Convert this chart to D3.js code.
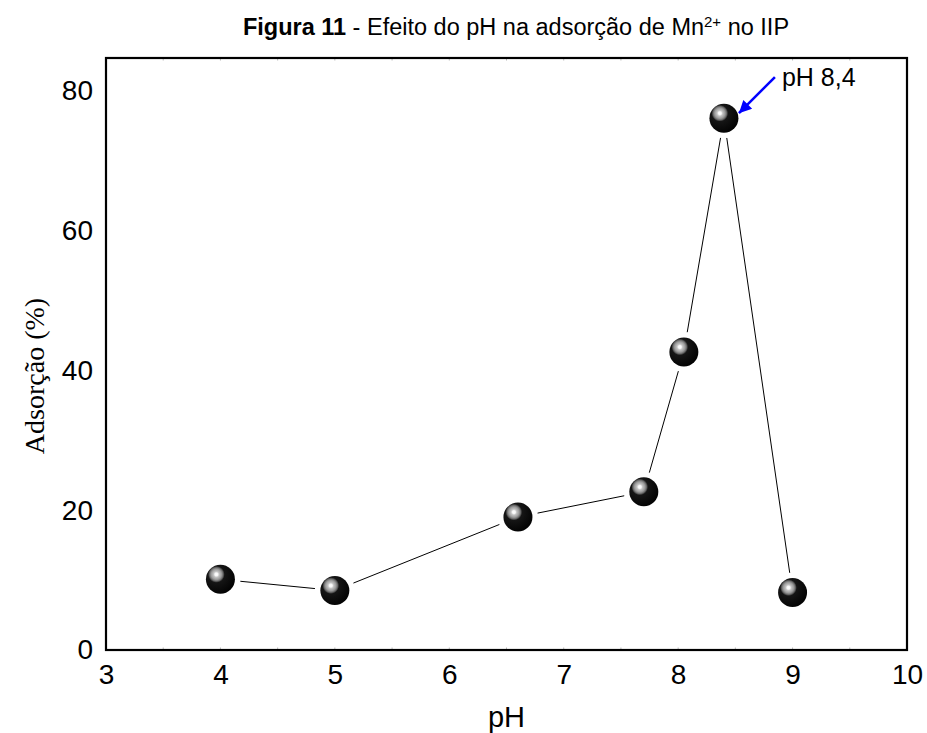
<!DOCTYPE html>
<html>
<head>
<meta charset="utf-8">
<script src="https://cdn.jsdelivr.net/npm/d3@7"></script>
<style>
  body { margin: 0; background: #fff; }
  svg { display: block; }
</style>
</head>
<body>
<svg id="chart"></svg>
<script>
// dados
const phValues = [4, 5, 6.6, 7.7, 8.05, 8.4, 9];
const adsorcao = [10.1, 8.5, 19.0, 22.6, 42.6, 76.0, 8.2];
const xTicks = [3, 4, 5, 6, 7, 8, 9, 10];
const yTicks = [0, 20, 40, 60, 80];
const destaque = { ph: 8.4, label: "pH 8,4" };

const width = 927;
const height = 733;
const margin = { top: 58, right: 20, bottom: 83, left: 106 };

const svg = d3.select("#chart")
    .attr("width", width)
    .attr("height", height);

const x = d3.scaleLinear().domain([3, 10]).range([margin.left, width - margin.right]);
const y = d3.scaleLinear().domain([0, 84.6]).range([height - margin.bottom, margin.top]);

// gradiente das esferas
const defs = svg.append("defs");
const grad = defs.append("radialGradient")
    .attr("id", "esfera")
    .attr("cx", 0.36).attr("cy", 0.33).attr("r", 0.75)
    .attr("fx", 0.36).attr("fy", 0.33);
[[0, "#ffffff"], [0.07, "#f6f6f6"], [0.13, "#c4c4c4"], [0.24, "#9a9a9a"], [0.31, "#6a6a6a"], [0.38, "#151515"], [1, "#000000"]]
    .forEach(s => grad.append("stop").attr("offset", s[0]).attr("stop-color", s[1]));

defs.append("marker")
    .attr("id", "seta")
    .attr("viewBox", "0 0 10 10")
    .attr("refX", 10).attr("refY", 5)
    .attr("markerWidth", 6).attr("markerHeight", 5)
    .attr("markerUnits", "strokeWidth")
    .attr("orient", "auto")
    .append("path")
    .attr("d", "M0,0 L10,5 L0,10 Z")
    .attr("fill", "#0000ff");

// título
const title = svg.append("text")
    .attr("x", 516)
    .attr("y", 35)
    .attr("text-anchor", "middle")
    .style("font-family", "Arial, 'Liberation Sans', sans-serif")
    .style("font-size", "23.5px")
    .attr("fill", "#000");
title.append("tspan").attr("font-weight", "bold").text("Figura 11");
title.append("tspan").text(" - Efeito do pH na adsorção de Mn");
title.append("tspan").attr("dy", -8).style("font-size", "15px").text("2+");
title.append("tspan").attr("dy", 8).text(" no IIP");

// eixos
const font = "Arial, 'Liberation Sans', sans-serif";

const xAxis = svg.append("g")
    .attr("transform", `translate(0,${y(0)})`)
    .call(d3.axisBottom(x).tickValues(xTicks).tickSize(0).tickPadding(14).tickFormat(d3.format("d")));
xAxis.select(".domain").remove();
xAxis.selectAll("text").style("font-family", font).style("font-size", "28px").attr("fill", "#000");

const yAxis = svg.append("g")
    .attr("transform", `translate(${x(3)},0)`)
    .call(d3.axisLeft(y).tickValues(yTicks).tickSize(0).tickPadding(13).tickFormat(d3.format("d")));
yAxis.select(".domain").remove();
yAxis.selectAll("text").style("font-family", font).style("font-size", "28px").attr("fill", "#000");

// pequenos ticks internos
const minorX = d3.range(3.5, 10, 0.5);
svg.append("g").selectAll("line")
    .data(minorX)
    .join("line")
    .attr("x1", d => x(d)).attr("x2", d => x(d))
    .attr("y1", y(0)).attr("y2", y(0) - 2.5)
    .attr("stroke", "#bbb").attr("stroke-width", 1);
svg.append("g").selectAll("line")
    .data(minorX)
    .join("line")
    .attr("x1", d => x(d)).attr("x2", d => x(d))
    .attr("y1", y.range()[1]).attr("y2", y.range()[1] + 2.5)
    .attr("stroke", "#bbb").attr("stroke-width", 1);

// moldura
svg.append("rect")
    .attr("x", x(3))
    .attr("y", y.range()[1])
    .attr("width", x(10) - x(3))
    .attr("height", y(0) - y.range()[1])
    .attr("fill", "none")
    .attr("stroke", "#000")
    .attr("stroke-width", 2.2);

// rótulos dos eixos
svg.append("text")
    .attr("x", (x(3) + x(10)) / 2)
    .attr("y", 727)
    .attr("text-anchor", "middle")
    .style("font-family", font)
    .style("font-size", "29px")
    .text("pH");

svg.append("text")
    .attr("transform", `translate(44,${(y(0) + y.range()[1]) / 2 + 22}) rotate(-90)`)
    .attr("text-anchor", "middle")
    .style("font-family", "'Times New Roman', 'Liberation Serif', serif")
    .style("font-size", "28px")
    .text("Adsorção (%)");

// segmentos com folga nas esferas
const pontos = phValues.map((p, i) => ({ px: x(p), py: y(adsorcao[i]) }));
const gap = 20;
const segs = d3.pairs(pontos).map(([a, b]) => {
    const dx = b.px - a.px, dy = b.py - a.py;
    const len = Math.hypot(dx, dy);
    const ux = dx / len, uy = dy / len;
    return { x1: a.px + ux * gap, y1: a.py + uy * gap, x2: b.px - ux * gap, y2: b.py - uy * gap };
});
svg.append("g").selectAll("line")
    .data(segs)
    .join("line")
    .attr("x1", d => d.x1).attr("y1", d => d.y1)
    .attr("x2", d => d.x2).attr("y2", d => d.y2)
    .attr("stroke", "#000")
    .attr("stroke-width", 1);

svg.append("g").selectAll("circle")
    .data(pontos)
    .join("circle")
    .attr("cx", d => d.px)
    .attr("cy", d => d.py)
    .attr("r", 14.5)
    .attr("fill", "url(#esfera)");

// anotação pH 8,4
const iPico = phValues.indexOf(destaque.ph);
const px = x(destaque.ph), py = y(adsorcao[iPico]);
svg.append("line")
    .attr("x1", px + 51).attr("y1", py - 41)
    .attr("x2", px + 15).attr("y2", py - 5)
    .attr("stroke", "#0000ff")
    .attr("stroke-width", 2.5)
    .attr("marker-end", "url(#seta)");
svg.append("text")
    .attr("x", px + 58)
    .attr("y", py - 32)
    .style("font-family", font)
    .style("font-size", "25px")
    .text(destaque.label);
</script>
</body>
</html>
